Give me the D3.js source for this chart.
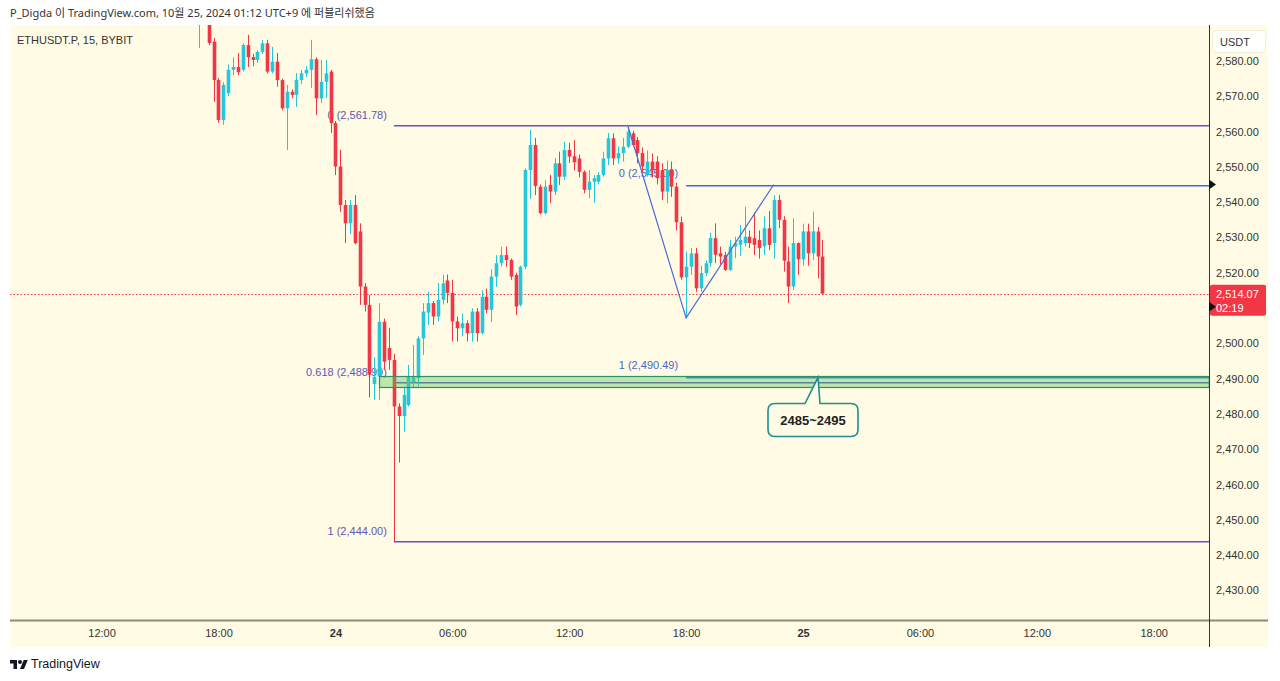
<!DOCTYPE html>
<html><head><meta charset="utf-8">
<script src="https://cdn.jsdelivr.net/npm/d3@7"></script>
<style>body{margin:0;background:#fff}svg{display:block}</style>
</head><body><svg id="c" width="1280" height="681"></svg>
<script>
// ---------- data ----------
const startHour = 17;      // first candle: Oct 23 17:00
const stepHour = 0.25;     // 15-minute candles
const opens  = [2592,2598,2595,2585.5,2574.6,2563.3,2570.9,2577.5,2578.3,2577.5,2584.5,2581.1,2580.3,2582.6,2585,2577,2579.8,2574.6,2566.6,2571.3,2570.4,2574.6,2576.5,2577.5,2580.5,2569.4,2574.1,2577,2562.4,2550.1,2539.2,2534,2539.2,2531.7,2516.1,2510.9,2488.5,2490.6,2506.1,2498.7,2495.3,2482.1,2479.4,2482.5,2489,2490.1,2501.4,2508.7,2511.4,2507.6,2512.3,2517.8,2514.3,2506.2,2504.3,2505.7,2502.9,2509,2502.9,2513.2,2509.5,2518.9,2522.7,2525,2523.6,2519.4,2510.9,2521.7,2549.1,2556.2,2544.4,2536.9,2544.9,2543,2551,2547.2,2554.8,2553,2552.4,2548.6,2543.5,2545.8,2545.8,2547.7,2552.4,2558.1,2552.4,2553.9,2555.7,2559.5,2557.6,2553.9,2547.7,2551.5,2551.5,2549.1,2543,2549.1,2544.4,2534.3,2518.7,2521.7,2525.5,2515.6,2519.9,2522.7,2529.8,2525.5,2525,2520.8,2527.4,2527.9,2528.4,2530.2,2529.8,2529.3,2527.5,2532.6,2528.4,2540.6,2535,2523.2,2516.1,2528.4,2523.8,2531.7,2525.5,2531.7,2524.6];
const highs  = [2600,2602,2596,2586.5,2575.2,2574,2579,2581,2582.3,2585,2587.4,2582,2583,2586,2586,2584,2582.3,2575,2573.2,2572,2576.6,2577.5,2578.5,2586,2581,2580.3,2580.3,2577.5,2563,2554.8,2540.6,2540.6,2542,2534,2517,2513.7,2496,2511.4,2507,2504.4,2497,2483,2487.7,2493.9,2499.5,2502,2511.4,2514.6,2512,2517.1,2519.4,2519.5,2518,2507.6,2508.4,2506.5,2509.9,2510,2515,2515.5,2521,2525,2527.4,2527.4,2524,2520,2522,2549.5,2560.5,2558.2,2545,2546.3,2547.7,2552.5,2554.3,2557.1,2556.8,2557.6,2553.5,2549,2549.1,2547.7,2548.5,2554.3,2559.6,2559.5,2555.8,2558.2,2561.78,2560.2,2558.5,2555.5,2554.7,2553.8,2553,2551,2551.8,2551.5,2545.5,2535.9,2526,2527,2527,2522,2523.5,2531.3,2534,2527.4,2525.9,2529.3,2530.2,2533.5,2538.7,2532,2537,2532,2536,2537.5,2542,2542,2536,2527.4,2535.4,2528.6,2533.9,2533.9,2537.3,2533,2529.3];
const lows   = [2583.7,2592,2584.5,2568.4,2562.5,2561.9,2570,2576,2576,2577,2578.3,2578.5,2579.5,2582,2576.5,2576.5,2572.7,2566,2554.8,2569.5,2567,2573.5,2575.5,2572.4,2564.7,2568.1,2569.5,2559.6,2547.7,2537.3,2528.4,2531,2528,2510.9,2509,2484.6,2484,2484,2492.5,2492.5,2444.0,2466.2,2475,2482.1,2487.5,2487.7,2496.7,2505.2,2505.2,2506.2,2511,2511.4,2500.5,2500.5,2502,2500.5,2500.5,2500.5,2502.5,2508.5,2506,2516,2521.7,2521.7,2518,2508,2510.4,2521,2541,2542,2536.5,2536.5,2539.7,2542,2544.9,2546.3,2551.1,2549,2547,2542.5,2541.1,2539.8,2545,2547.2,2550.5,2550.5,2550.9,2551.5,2555.3,2555.8,2551,2548,2547.2,2547,2545,2540.6,2539.7,2541.5,2532,2518,2507.6,2519.4,2514.6,2514.6,2519,2521.7,2522.7,2522.3,2520.5,2520.5,2524.1,2524.8,2527.4,2527,2525,2524,2525,2526.4,2524,2532.6,2520.3,2511.4,2515.1,2519.4,2522,2522,2523.6,2518.4,2514];
const closes = [2598,2595,2585.1,2574.6,2563.3,2573.2,2577.5,2578.3,2576.8,2584.5,2581.1,2580.3,2582.6,2585,2577,2579.8,2574.6,2566.6,2571.3,2570.4,2574.6,2576.5,2577.5,2580.5,2569.4,2574.1,2576.5,2562.4,2550.1,2539.2,2534,2539.2,2528.4,2516.1,2510.9,2491.1,2490.5,2506.1,2494.8,2495.3,2482.1,2479.4,2485.4,2490.6,2490.5,2501.4,2509,2511.4,2507.6,2512.3,2517,2514.3,2506.2,2504.3,2505.7,2502.9,2509,2502.9,2513.2,2509.5,2518.9,2522.7,2525,2523.6,2518.9,2510.4,2521.7,2549.1,2556.2,2544.6,2536.9,2544.4,2543,2551,2547.2,2554.8,2552.9,2551.3,2548.6,2543.5,2545.8,2546.8,2547.7,2552.4,2558.1,2552.4,2553.9,2555.7,2560,2556.2,2553.9,2550.1,2551.5,2549.1,2546.8,2543,2549.1,2544.4,2534.3,2518.7,2521.7,2525.5,2515.6,2519.9,2522.7,2529.8,2525.1,2524.6,2520.8,2527.4,2528.4,2529.3,2530.2,2528.4,2527.9,2527,2532.6,2527.9,2540.6,2535,2523.4,2516.1,2528.4,2523.8,2531.7,2525.5,2531.7,2524.6,2514.07];

// 2,510.00 is hidden behind the last-price label in the reference
const priceTicks = [2580,2570,2560,2550,2540,2530,2520,2500,2490,2480,2470,2460,2450,2440,2430];
const timeTicks  = [12,18,24,30,36,42,48,54,60,66]; // hours since Oct 23 00:00
const timeLabels = ["12:00","18:00","24","06:00","12:00","18:00","25","06:00","12:00","18:00"];
const boldLabels = ["24","25"];

const lastPrice = 2514.07;
const countdown = "02:19";

const fib1Start = 27, fib1Levels = ["0","0.618","1"], fib1Prices = [2561.78,2488.99,2444.00];
const fib2Start = 42, fib2Levels = ["0","1"], fib2Prices = [2545.00,2490.49];
const zigHours = [39,42,46.5], zigPrices = [2561.78,2507.2,2545.0];
const zoneStart = 26.25, zoneTop = 2490.6, zoneBottom = 2487.5;
const zoneText = "2485~2495", zoneAnchorHour = 48.77, zoneAnchorPrice = 2490.3;

const headerText = "P_Digda 이 TradingView.com, 10월 25, 2024 01:12 UTC+9 에 퍼블리쉬했음";
const symbolText = "ETHUSDT.P, 15, BYBIT";

// ---------- layout ----------
const svg = d3.select("#c");
const L = 10, R = 1209, T = 25, B = 620, AXR = 1268, AXB = 647;
const bg = "#fffbe4";
const up = "#26c6da", dn = "#f23645";
const fontUI = "'Liberation Sans', Arial, sans-serif";

const x = d3.scaleLinear().domain([7.299, 68.838]).range([L, R]);
const y = d3.scaleLinear().domain([2421.6, 2590.2]).range([B, T]);
const py = p => Math.round(y(p)) + 0.5;
const ly2 = p => Math.round(y(p)) + 0.8;

svg.append("rect").attr("x", L).attr("y", T).attr("width", AXR - L).attr("height", AXB - T).attr("fill", bg);

svg.append("text").attr("x", 10).attr("y", 17).attr("font-family", "'Noto Sans','Noto Sans CJK KR',sans-serif")
  .attr("font-size", 11).attr("fill", "#333").text(headerText);

const defs = svg.append("defs");
defs.append("clipPath").attr("id", "plot").append("rect").attr("x", L).attr("y", T).attr("width", R - L).attr("height", B - T);

const plot = svg.append("g").attr("clip-path", "url(#plot)");

// current price dotted line
plot.append("line").attr("x1", L).attr("x2", R).attr("y1", py(lastPrice)).attr("y2", py(lastPrice))
  .attr("stroke", dn).attr("stroke-width", 1).attr("stroke-dasharray", "1.5,2");

// fib 1 (purple)
const fib1Color = "#6650d8";
fib1Prices.forEach((p, i) => {
  plot.append("line").attr("x1", x(fib1Start)).attr("x2", R).attr("y1", ly2(p)).attr("y2", ly2(p))
    .attr("stroke", fib1Color).attr("stroke-width", 1.5);
  plot.append("text").attr("x", x(fib1Start) - 7).attr("y", y(p) - 6).attr("text-anchor", "end")
    .attr("font-family", fontUI).attr("font-size", 11).attr("fill", "#5d58b0")
    .text(`${fib1Levels[i]} (${d3.format(",.2f")(p)})`);
});
// fib 2 (blue)
const fib2Color = "#3d6ae8";
fib2Prices.forEach((p, i) => {
  plot.append("line").attr("x1", x(fib2Start)).attr("x2", R).attr("y1", ly2(p)).attr("y2", ly2(p))
    .attr("stroke", fib2Color).attr("stroke-width", 1.5);
  plot.append("text").attr("x", x(fib2Start) - 8).attr("y", y(p) - 8).attr("text-anchor", "end")
    .attr("font-family", fontUI).attr("font-size", 11).attr("fill", "#4a68cc")
    .text(`${fib2Levels[i]} (${d3.format(",.2f")(p)})`);
});

// candles
const candles = opens.map((o, i) => ({t: startHour + i * stepHour, o, h: highs[i], l: lows[i], c: closes[i]}));
const bw = 3.6;
const cg = plot.append("g");
cg.selectAll("line.w").data(candles).join("line")
  .attr("x1", d => Math.round(x(d.t)) + 0.5).attr("x2", d => Math.round(x(d.t)) + 0.5)
  .attr("y1", d => y(d.h)).attr("y2", d => y(d.l))
  .attr("stroke", d => d.c >= d.o ? up : dn).attr("stroke-width", 1);
cg.selectAll("rect.b").data(candles).join("rect")
  .attr("x", d => Math.round(x(d.t)) + 0.5 - bw / 2).attr("width", bw)
  .attr("y", d => y(Math.max(d.o, d.c)))
  .attr("height", d => Math.max(1, Math.abs(y(d.o) - y(d.c))))
  .attr("fill", d => d.c >= d.o ? up : dn);

// zone box
plot.append("rect").attr("x", Math.round(x(zoneStart)) + 0.5).attr("y", py(zoneTop)).attr("width", R - x(zoneStart))
  .attr("height", py(zoneBottom) - py(zoneTop))
  .attr("fill", "rgba(90,200,80,0.4)").attr("stroke", "#2f8f6f").attr("stroke-width", 1.2);

// zigzag
plot.append("path").datum(zigHours.map((h, i) => [h, zigPrices[i]]))
  .attr("d", d3.line().x(d => x(d[0])).y(d => y(d[1])))
  .attr("fill", "none").attr("stroke", "#4a6bd8").attr("stroke-width", 1.2);

// callout
const ax = x(zoneAnchorHour), ay = y(zoneAnchorPrice);
const bx0 = ax - 50, bx1 = ax + 40, by0 = ay + 26, by1 = ay + 59, r = 7;
const tl = ax - 13, tr = ax + 2;
const cp = `M${bx0 + r},${by0} L${tl},${by0} L${ax},${ay} L${tr},${by0} L${bx1 - r},${by0} Q${bx1},${by0} ${bx1},${by0 + r} L${bx1},${by1 - r} Q${bx1},${by1} ${bx1 - r},${by1} L${bx0 + r},${by1} Q${bx0},${by1} ${bx0},${by1 - r} L${bx0},${by0 + r} Q${bx0},${by0} ${bx0 + r},${by0} Z`;
plot.append("path").attr("d", cp).attr("fill", bg).attr("stroke", "#1f8f8f").attr("stroke-width", 1.6);
plot.append("text").attr("x", (bx0 + bx1) / 2).attr("y", (by0 + by1) / 2).attr("dy", "0.35em").attr("text-anchor", "middle")
  .attr("font-family", fontUI).attr("font-size", 13).attr("font-weight", "bold").attr("fill", "#222").text(zoneText);

// symbol legend
svg.append("text").attr("x", 17).attr("y", 44).attr("font-family", fontUI).attr("font-size", 11).attr("fill", "#333").text(symbolText);

// axes frame
svg.append("line").attr("x1", L).attr("x2", AXR).attr("y1", B + 0.5).attr("y2", B + 0.5).attr("stroke", "#8c8c7e").attr("stroke-width", 2);
svg.append("line").attr("x1", R + 0.5).attr("x2", R + 0.5).attr("y1", T).attr("y2", AXB).attr("stroke", "#333").attr("stroke-width", 1);

// y axis
const yAxis = d3.axisRight(y).tickValues(priceTicks).tickSize(0).tickPadding(7).tickFormat(d3.format(",.2f"));
const gy = svg.append("g").attr("transform", `translate(${R},0)`).call(yAxis);
gy.select(".domain").remove();
gy.selectAll("text").attr("font-family", fontUI).attr("font-size", 11).attr("fill", "#333");

// x axis
const xAxis = d3.axisBottom(x).tickValues(timeTicks).tickSize(0).tickPadding(9).tickFormat((d, i) => timeLabels[i]);
const gx = svg.append("g").attr("transform", `translate(0,${B})`).call(xAxis);
gx.select(".domain").remove();
gx.selectAll("text").attr("font-family", fontUI).attr("font-size", 11).attr("fill", "#333")
  .attr("font-weight", (d, i) => boldLabels.includes(timeLabels[i]) ? "bold" : "normal");

// USDT box
svg.append("rect").attr("x", 1212.5).attr("y", 30.5).attr("width", 53).attr("height", 22).attr("rx", 4)
  .attr("fill", "#fffffb").attr("stroke", "#f0eedc");
svg.append("text").attr("x", 1220).attr("y", 42).attr("dy", "0.35em").attr("font-family", fontUI).attr("font-size", 11).attr("fill", "#333").text("USDT");

// last price label
const ly = y(lastPrice);
svg.append("rect").attr("x", 1210).attr("y", ly - 9).attr("width", 56).attr("height", 31).attr("rx", 2).attr("fill", dn);
svg.append("text").attr("x", 1216).attr("y", ly).attr("dy", "0.35em").attr("font-family", fontUI).attr("font-size", 11).attr("fill", "#fff").text(d3.format(",.2f")(lastPrice));
svg.append("text").attr("x", 1216).attr("y", ly + 14).attr("dy", "0.35em").attr("font-family", fontUI).attr("font-size", 11).attr("fill", "#fff").text(countdown);

// axis markers
[y(fib2Prices[0]), ly + 13].forEach(my => {
  svg.append("path").attr("d", `M${R},${my - 5} L${R + 7},${my} L${R},${my + 5} Z`).attr("fill", "#111");
});

// TradingView logo
const logo = svg.append("g").attr("transform", "translate(10,658) scale(0.5)");
logo.append("path").attr("d", "M14 22H7V11H0V4h14v18zM28 22h-8l7.5-18h8L28 22z").attr("fill", "#131722");
logo.append("circle").attr("cx", 20).attr("cy", 8).attr("r", 4).attr("fill", "#131722");
svg.append("text").attr("x", 31).attr("y", 664).attr("dy", "0.35em").attr("font-family", fontUI).attr("font-size", 12.5).attr("fill", "#131722").text("TradingView");
</script></body></html>
